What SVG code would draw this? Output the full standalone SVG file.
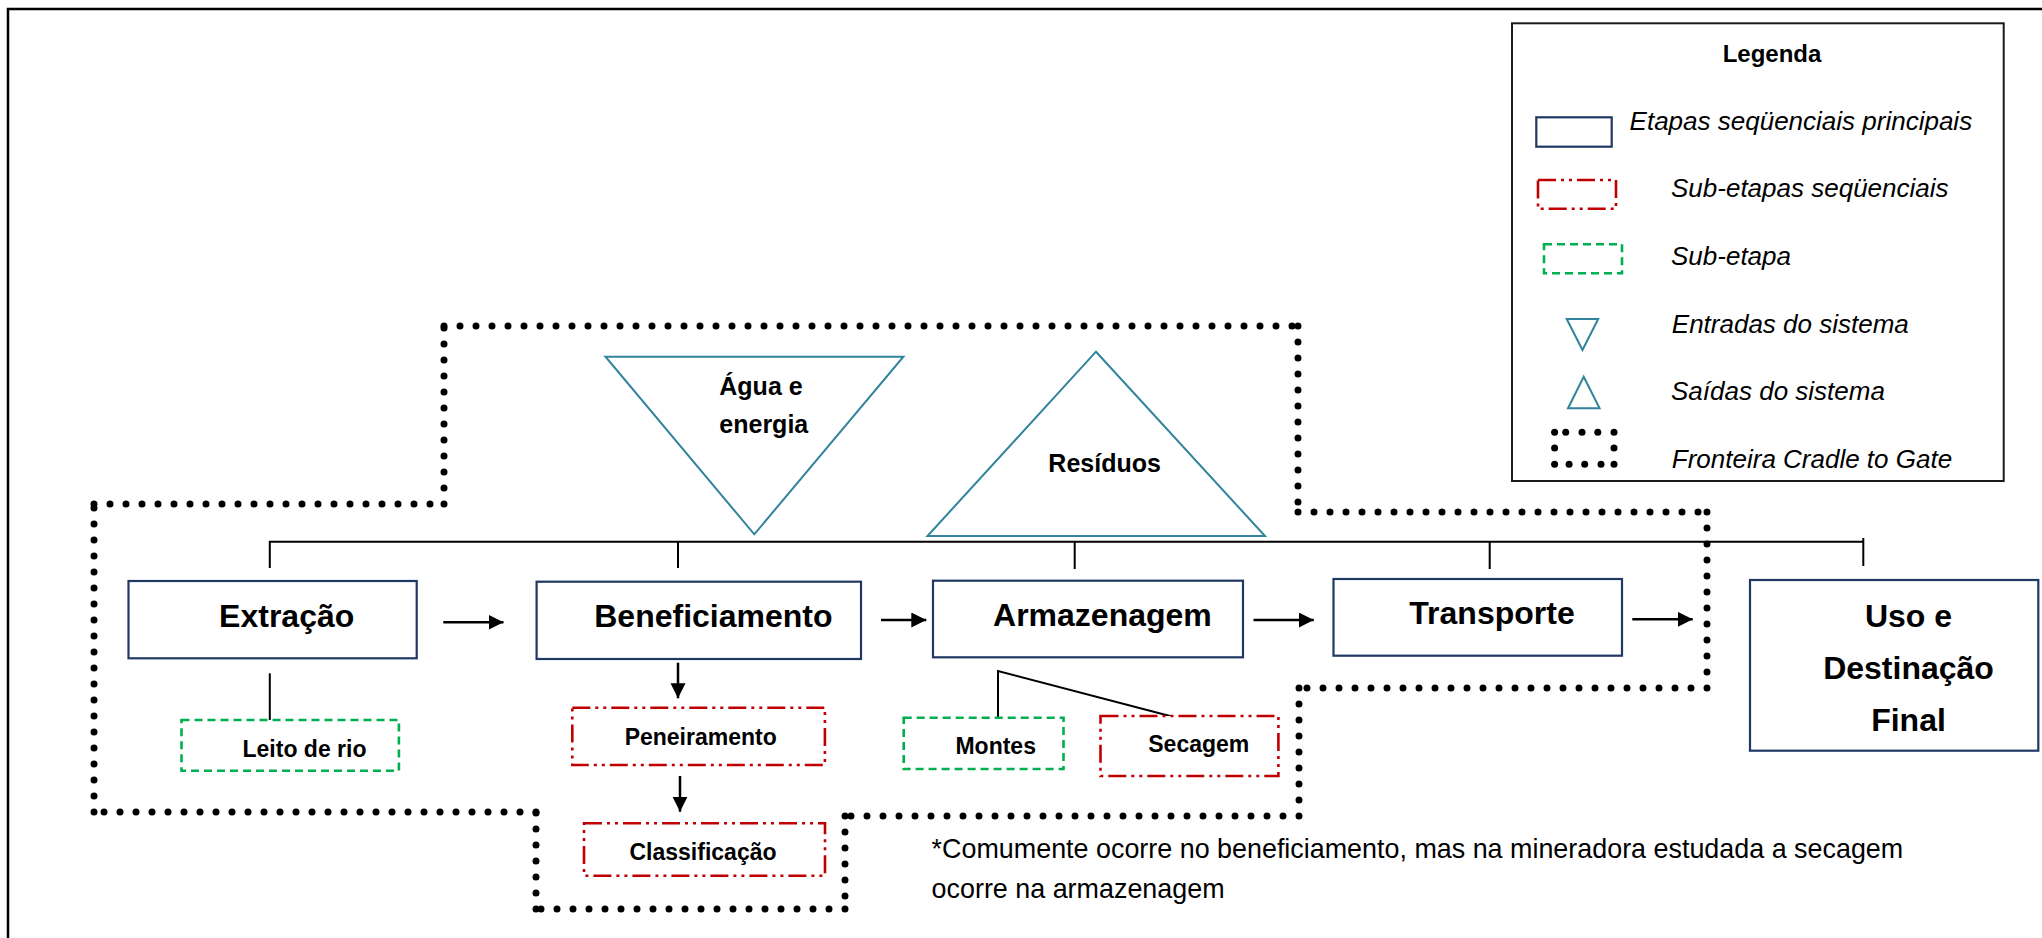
<svg xmlns="http://www.w3.org/2000/svg" width="2042" height="938" viewBox="0 0 2042 938">
  <style>
    .frame { fill: none; stroke: #000; stroke-width: 2.5; }
    .main { fill: #fff; stroke: #203864; stroke-width: 2.2; }
    .seq { fill: #fff; stroke: #c00000; stroke-width: 2.6; stroke-dasharray: 18 5 3 5 3 5; }
    .sub { fill: #fff; stroke: #00b050; stroke-width: 2.6; stroke-dasharray: 8 5; }
    .io { fill: #fff; stroke: #31849b; stroke-width: 2; }
    .boundary { fill: none; stroke: #000; stroke-width: 7; stroke-linecap: round; stroke-dasharray: 0 16; }
    .link { fill: none; stroke: #000; stroke-width: 2; }
    .flow { fill: none; stroke: #000; stroke-width: 2.5; marker-end: url(#head); }
    .lbl { font-family: "Liberation Sans", Arial, sans-serif; font-weight: bold; fill: #000; text-anchor: middle; }
    .big { font-size: 32px; }
    .small { font-size: 23px; }
    .io-lbl { font-size: 25px; }
    .leg { font-family: "Liberation Sans", Arial, sans-serif; font-style: italic; font-size: 26px; fill: #000; }
    .note { font-family: "Liberation Sans", Arial, sans-serif; font-size: 26.9px; fill: #000; }
  </style>
  <defs>
    <marker id="head" markerUnits="userSpaceOnUse" markerWidth="16" markerHeight="16" refX="15" refY="7.5" orient="auto">
      <path d="M0,0 L15,7.5 L0,15 Z" fill="#000"/>
    </marker>
  </defs>

  <rect width="2042" height="938" fill="#fff"/>
  <!-- page frame -->
  <path class="frame" d="M8,938 V9 H2042"/>

  <!-- cradle-to-gate boundary -->
  <g id="boundary">
    <line class="boundary" x1="94" y1="504" x2="444" y2="504"/>
    <line class="boundary" x1="444" y1="504" x2="444" y2="326"/>
    <line class="boundary" x1="444" y1="326" x2="1298" y2="326"/>
    <line class="boundary" x1="1298" y1="326" x2="1298" y2="512"/>
    <line class="boundary" x1="1298" y1="512" x2="1707" y2="512"/>
    <line class="boundary" x1="1707" y1="512" x2="1707" y2="688"/>
    <line class="boundary" x1="1707" y1="688" x2="1299" y2="688"/>
    <line class="boundary" x1="1299" y1="688" x2="1299" y2="816"/>
    <line class="boundary" x1="1299" y1="816" x2="845" y2="816"/>
    <line class="boundary" x1="845" y1="816" x2="845" y2="909"/>
    <line class="boundary" x1="845" y1="909" x2="536" y2="909"/>
    <line class="boundary" x1="536" y1="909" x2="536" y2="812"/>
    <line class="boundary" x1="536" y1="812" x2="94" y2="812"/>
    <line class="boundary" x1="94" y1="812" x2="94" y2="504"/>
  </g>

  <!-- system inputs / outputs -->
  <g id="entrada">
    <polygon class="io" points="605.5,356.7 903.4,356.7 754.3,534.3"/>
    <text class="lbl io-lbl" x="719.3" y="395" style="text-anchor:start">Água e</text>
    <text class="lbl io-lbl" x="719.3" y="433.3" style="text-anchor:start">energia</text>
  </g>
  <g id="saida">
    <polygon class="io" points="1096,351.7 1265,536 927.5,536"/>
    <text class="lbl io-lbl" x="1104.6" y="471.7">Resíduos</text>
  </g>

  <!-- connectors -->
  <g id="connectors">
    <path class="link" d="M269.8,568 V541.7 H1863.3"/>
    <line class="link" x1="678" y1="541.7" x2="678" y2="568"/>
    <line class="link" x1="1074.7" y1="541.7" x2="1074.7" y2="569"/>
    <line class="link" x1="1489.7" y1="541.7" x2="1489.7" y2="569"/>
    <line class="link" x1="1863.3" y1="538" x2="1863.3" y2="566"/>
    <line class="flow" x1="443.3" y1="622.3" x2="503.5" y2="622.3"/>
    <line class="flow" x1="881" y1="620" x2="926.3" y2="620"/>
    <line class="flow" x1="1253.5" y1="620" x2="1313.8" y2="620"/>
    <line class="flow" x1="1632.3" y1="619.3" x2="1692.7" y2="619.3"/>
    <line class="flow" x1="678" y1="662.7" x2="678" y2="698.3"/>
    <line class="flow" x1="680" y1="776" x2="680" y2="811.7"/>
    <line class="link" x1="269.8" y1="673.3" x2="269.8" y2="720.7"/>
    <path class="link" d="M998,717.7 V671 L1172.8,716.7"/>
  </g>

  <!-- main stages -->
  <g id="extracao">
    <rect class="main" x="128.5" y="581" width="288.2" height="77.3"/>
    <text class="lbl big" x="286.7" y="626.7">Extração</text>
  </g>
  <g id="beneficiamento">
    <rect class="main" x="536.6" y="581.7" width="324.4" height="77.3"/>
    <text class="lbl big" x="713.4" y="626.7">Beneficiamento</text>
  </g>
  <g id="armazenagem">
    <rect class="main" x="933" y="580.7" width="310" height="76.6"/>
    <text class="lbl big" x="1102.4" y="626">Armazenagem</text>
  </g>
  <g id="transporte">
    <rect class="main" x="1333.5" y="579" width="288.5" height="76.7"/>
    <text class="lbl big" x="1492" y="624">Transporte</text>
  </g>
  <g id="uso">
    <rect class="main" x="1750" y="580" width="288.3" height="170.7"/>
    <text class="lbl big" x="1908.5" y="626.7">Uso e</text>
    <text class="lbl big" x="1908.5" y="679.3">Destinação</text>
    <text class="lbl big" x="1908.5" y="730.7">Final</text>
  </g>

  <!-- sub-stages -->
  <g id="leito">
    <rect class="sub" x="181.5" y="720" width="217.4" height="50.7"/>
    <text class="lbl small" x="304.5" y="757.3">Leito de rio</text>
  </g>
  <g id="peneiramento">
    <rect class="seq" x="572.3" y="707.7" width="252.6" height="57.3"/>
    <text class="lbl small" x="700.7" y="745">Peneiramento</text>
  </g>
  <g id="classificacao">
    <rect class="seq" x="584" y="823.3" width="241" height="52.4"/>
    <text class="lbl small" x="703" y="860">Classificação</text>
  </g>
  <g id="montes">
    <rect class="sub" x="903.7" y="717.7" width="159.8" height="51.3"/>
    <text class="lbl small" x="995.7" y="754">Montes</text>
  </g>
  <g id="secagem">
    <rect class="seq" x="1100.5" y="716" width="177.9" height="60"/>
    <text class="lbl small" x="1198.8" y="751.7">Secagem</text>
  </g>

  <!-- footnote -->
  <g id="nota">
    <text class="note" x="931.6" y="858.3">*Comumente ocorre no beneficiamento, mas na mineradora estudada a secagem</text>
    <text class="note" x="931.6" y="898.3">ocorre na armazenagem</text>
  </g>

  <!-- legend -->
  <g id="legenda">
    <rect x="1512" y="23.3" width="491.7" height="457.7" fill="#fff" stroke="#1a1a1a" stroke-width="2"/>
    <text class="lbl" x="1772" y="61.7" style="font-size:24px">Legenda</text>
    <rect class="main" x="1536.3" y="117.3" width="75.4" height="29.4"/>
    <text class="leg" x="1629.6" y="129.5">Etapas seqüenciais principais</text>
    <rect class="seq" x="1538" y="180" width="78" height="28.7"/>
    <text class="leg" x="1671" y="197.3">Sub-etapas seqüenciais</text>
    <rect class="sub" x="1544" y="244.3" width="78" height="29"/>
    <text class="leg" x="1671" y="265">Sub-etapa</text>
    <polygon class="io" points="1566.7,319 1598.2,319 1582.5,350"/>
    <text class="leg" x="1671.8" y="332.7">Entradas do sistema</text>
    <polygon class="io" points="1583.7,376.7 1599.6,408.3 1568,408.3"/>
    <text class="leg" x="1671" y="400">Saídas do sistema</text>
    <g fill="#000">
      <circle cx="1554.6" cy="432.3" r="3.5"/>
      <circle cx="1565.7" cy="432.3" r="3.5"/>
      <circle cx="1582" cy="432.3" r="3.5"/>
      <circle cx="1597.8" cy="432.3" r="3.5"/>
      <circle cx="1614" cy="432.3" r="3.5"/>
      <circle cx="1554.6" cy="448" r="3.5"/>
      <circle cx="1614" cy="448" r="3.5"/>
      <circle cx="1554.6" cy="464.3" r="3.5"/>
      <circle cx="1569.1" cy="464.3" r="3.5"/>
      <circle cx="1584.7" cy="464.3" r="3.5"/>
      <circle cx="1601" cy="464.3" r="3.5"/>
      <circle cx="1614" cy="464.3" r="3.5"/>
    </g>
    <text class="leg" x="1671.8" y="468.3">Fronteira Cradle to Gate</text>
  </g>
</svg>
